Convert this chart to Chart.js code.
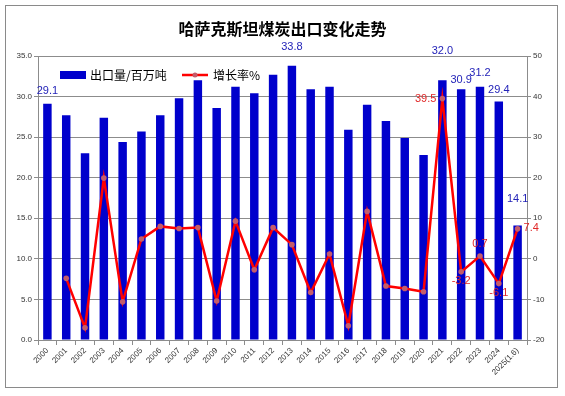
<!DOCTYPE html>
<html>
<head>
<meta charset="utf-8">
<script src="https://cdn.jsdelivr.net/npm/chart.js@4"></script>
<style>
    html, body { margin: 0; padding: 0; background: #fff; }
    #wrap { width: 565px; height: 396px; position: relative; }
</style>
</head>
<body>
<div id="wrap"><canvas id="chart" width="565" height="396"></canvas></div>
<script>
const years = ["2000", "2001", "2002", "2003", "2004", "2005", "2006", "2007", "2008", "2009",
    "2010", "2011", "2012", "2013", "2014", "2015", "2016", "2017", "2018", "2019",
    "2020", "2021", "2022", "2023", "2024", "2025(1.6)"];

// 出口量, 百万吨
const exports = [29.1, 27.7, 23.0, 27.4, 24.4, 25.7, 27.7, 29.8, 32.0, 28.6,
    31.2, 30.4, 32.7, 33.8, 30.9, 31.2, 25.9, 29.0, 27.0, 24.9,
    22.8, 32.0, 30.9, 31.2, 29.4, 14.1];

// 增长率 %
const growth = [null, -4.8, -17.0, 19.9, -10.6, 4.9, 8.0, 7.5, 7.7, -10.4,
    9.3, -2.7, 7.7, 3.5, -8.3, 1.2, -16.5, 11.7, -6.7, -7.3,
    -8.1, 39.5, -3.2, 0.7, -6.1, 7.4];

// which points carry a value label
const exportLabelIdx = [0, 13, 21, 22, 23, 24, 25];
const growthLabelIdx = [21, 22, 23, 24, 25];

// label placement (offset above bar top / side of point)
const barLabelGap = {0: 13, 13: 19, 21: 29, 22: 9, 23: 14, 24: 11, 25: 27};
const lineLabelSide = {21: "left", 22: "below", 23: "above", 24: "below", 25: "right"};

const BLUE = "#0000cc";
const RED = "#ff0000";
const MARK = "#c45c6a";
const GRID = "#8c8c8c";

const frame = {
    id: "frame",
    beforeDraw(chart) {
        const ctx = chart.ctx;
        ctx.save();
        ctx.fillStyle = "#fff";
        ctx.fillRect(0, 0, chart.width, chart.height);
        ctx.strokeStyle = "#8a8a8a";
        ctx.lineWidth = 1;
        ctx.strokeRect(5.5, 5.5, 552, 382);
        ctx.restore();
    }
};

const valueLabels = {
    id: "valueLabels",
    afterDatasetsDraw(chart) {
        const ctx = chart.ctx;
        ctx.save();
        ctx.font = "11px 'Liberation Sans', Arial, sans-serif";
        ctx.textBaseline = "middle";

        const bars = chart.getDatasetMeta(1).data;
        ctx.fillStyle = "#2323b8";
        ctx.textAlign = "center";
        exportLabelIdx.forEach(i => {
            const b = bars[i];
            ctx.fillText(exports[i].toFixed(1), b.x, b.y - barLabelGap[i]);
        });

        const pts = chart.getDatasetMeta(0).data;
        ctx.fillStyle = "#e02828";
        growthLabelIdx.forEach(i => {
            const p = pts[i];
            const side = lineLabelSide[i];
            const txt = growth[i].toFixed(1);
            if (side === "left") {
                ctx.textAlign = "right";
                ctx.fillText(txt, p.x - 6, p.y);
            } else if (side === "right") {
                ctx.textAlign = "left";
                ctx.fillText(txt, p.x + 6, p.y - 1);
            } else if (side === "above") {
                ctx.textAlign = "center";
                ctx.fillText(txt, p.x, p.y - 12);
            } else {
                ctx.textAlign = "center";
                ctx.fillText(txt, p.x, p.y + 9);
            }
        });
        ctx.restore();
    }
};

const legendBox = {
    id: "legendBox",
    afterDatasetsDraw(chart) {
        const ctx = chart.ctx;
        const a = chart.chartArea;
        const x = a.left + 22, y = a.top + 19;
        ctx.save();
        ctx.fillStyle = BLUE;
        ctx.fillRect(x, y - 4, 26, 8);
        ctx.font = "12px 'Noto Sans CJK SC', sans-serif";
        ctx.textBaseline = "middle";
        ctx.fillStyle = "#000";
        ctx.textAlign = "left";
        ctx.fillText("出口量/百万吨", x + 30, y);

        const lx = x + 122;
        ctx.strokeStyle = RED;
        ctx.lineWidth = 2.5;
        ctx.beginPath();
        ctx.moveTo(lx, y);
        ctx.lineTo(lx + 26, y);
        ctx.stroke();
        ctx.fillStyle = MARK;
        ctx.beginPath();
        ctx.arc(lx + 13, y, 2.5, 0, Math.PI * 2);
        ctx.fill();
        ctx.fillStyle = "#000";
        ctx.fillText("增长率%", lx + 31, y);
        ctx.restore();
    }
};

const tickFont = { family: "'Liberation Sans', Arial, sans-serif", size: 8 };

new Chart(document.getElementById("chart"), {
    data: {
        labels: years,
        datasets: [
            {
                type: "line",
                label: "增长率%",
                data: growth,
                yAxisID: "y1",
                borderColor: RED,
                borderWidth: 2.5,
                pointRadius: 2.8,
                pointBackgroundColor: MARK,
                pointBorderColor: MARK,
                pointBorderWidth: 0,
                tension: 0,
                spanGaps: false
            },
            {
                type: "bar",
                label: "出口量/百万吨",
                data: exports,
                yAxisID: "y",
                backgroundColor: BLUE,
                categoryPercentage: 1,
                barPercentage: 0.45
            }
        ]
    },
    options: {
        responsive: false,
        animation: false,
        layout: { padding: 0 },
        plugins: {
            legend: { display: false },
            tooltip: { enabled: false },
            title: {
                display: true,
                text: "哈萨克斯坦煤炭出口变化走势",
                color: "#000",
                font: { family: "'Noto Sans CJK SC', sans-serif", size: 16, weight: "bold" },
                padding: { top: 19, bottom: 17.8 }
            }
        },
        scales: {
            x: {
                offset: true,
                grid: { offset: true, drawOnChartArea: false, drawTicks: true, tickLength: 5, color: GRID },
                border: { color: GRID },
                ticks: { font: tickFont, color: "#333", minRotation: 45, maxRotation: 45, autoSkip: false, padding: 1 },
                afterFit: s => { s.height = 56; }
            },
            y: {
                position: "left",
                min: 0,
                max: 35,
                ticks: { stepSize: 5, font: tickFont, color: "#333", padding: 2, callback: v => v.toFixed(1) },
                grid: { color: GRID, tickLength: 4 },
                border: { color: GRID },
                afterFit: s => { s.width = 38; }
            },
            y1: {
                position: "right",
                min: -20,
                max: 50,
                ticks: { stepSize: 10, font: tickFont, color: "#333", padding: 2 },
                grid: { drawOnChartArea: false, color: GRID, tickLength: 4 },
                border: { color: GRID },
                afterFit: s => { s.width = 38; }
            }
        }
    },
    plugins: [frame, valueLabels, legendBox]
});
</script>
</body>
</html>
